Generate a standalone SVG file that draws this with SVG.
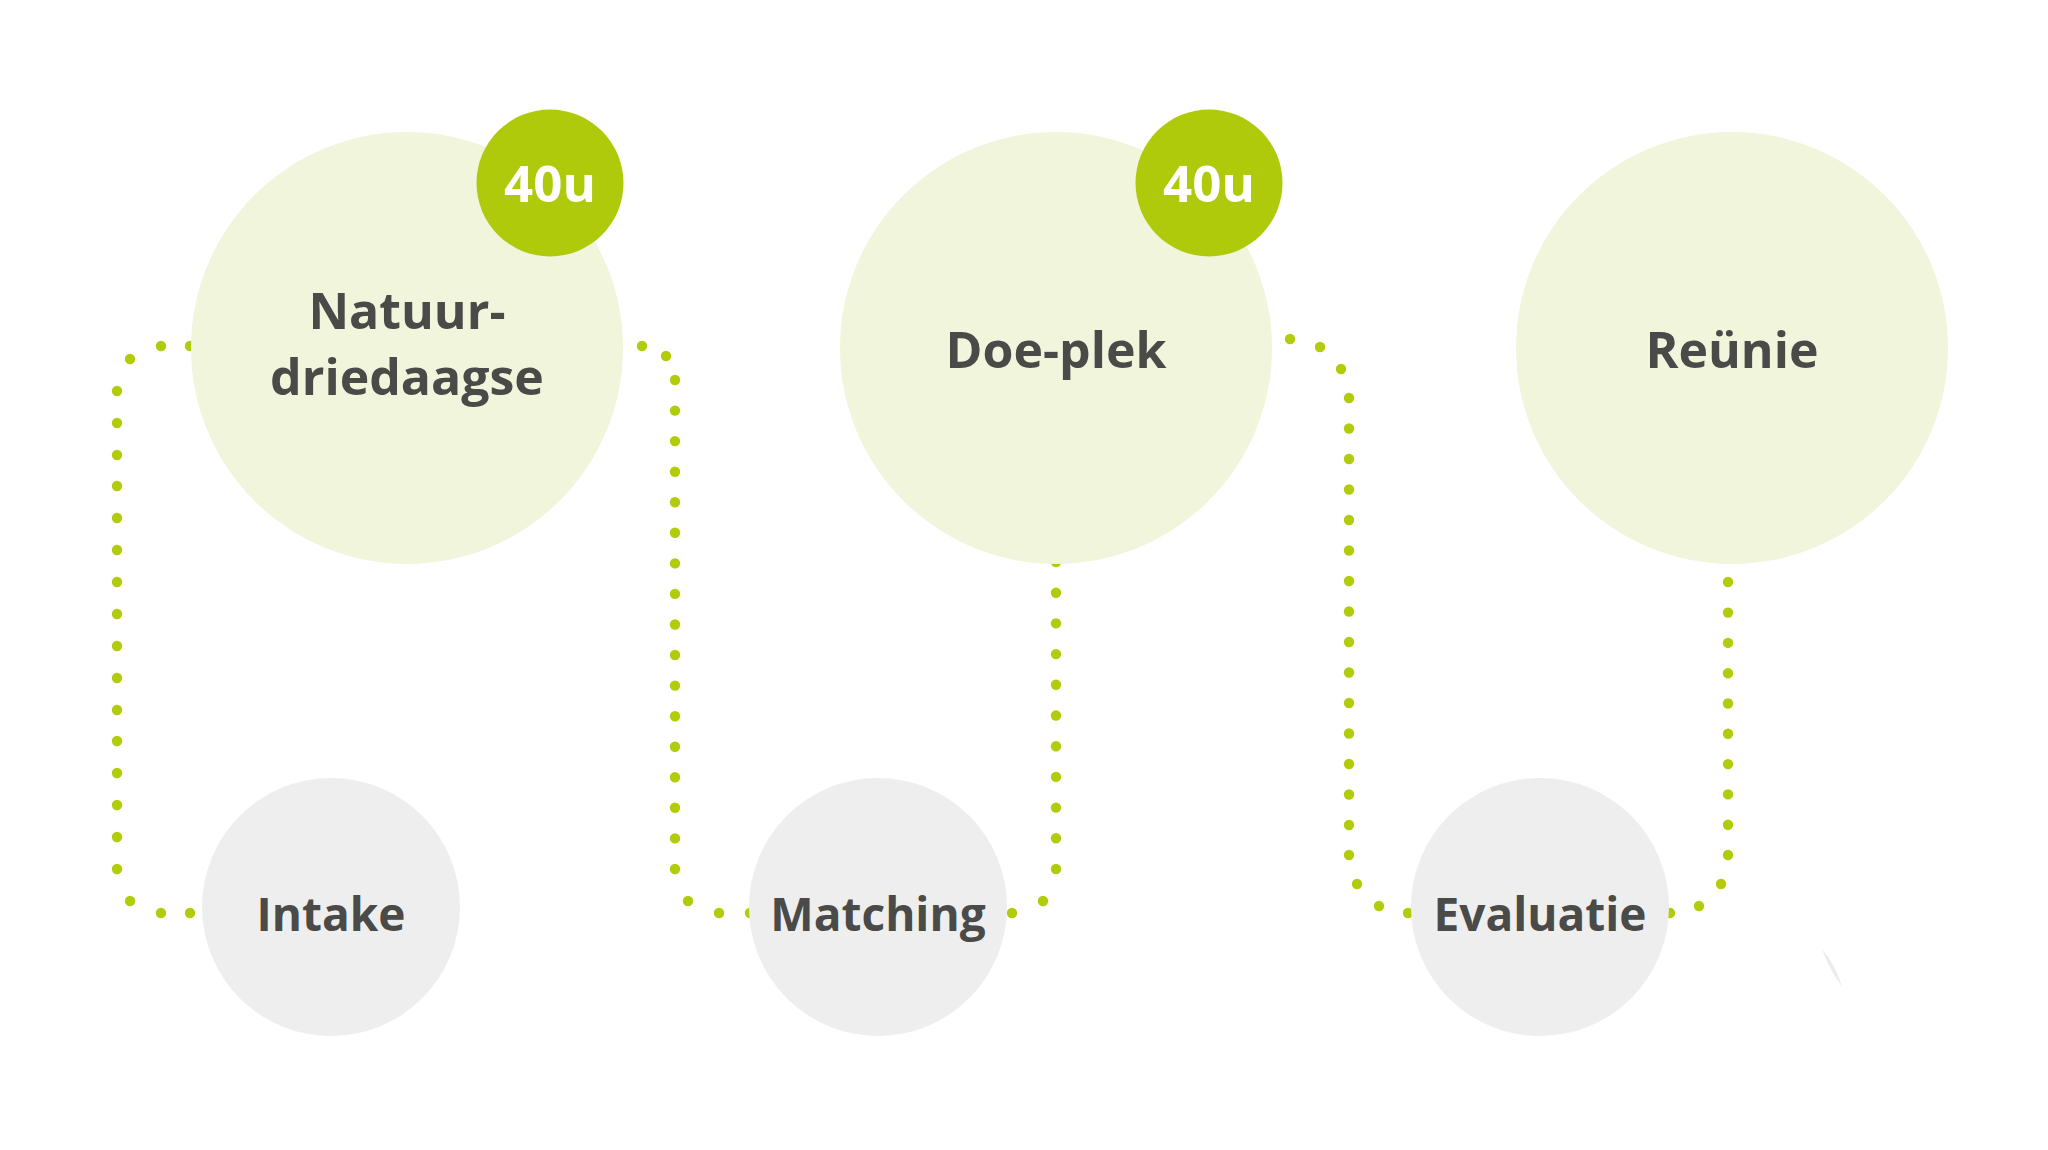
<svg xmlns="http://www.w3.org/2000/svg" width="2048" height="1150" viewBox="0 0 2048 1150">
  <style>
    .big { fill: #f0f5dc; }
    .small { fill: #eeeeee; }
    .badge { fill: #afca0b; }
    .label { font-family: "Open Sans", "Liberation Sans", sans-serif; font-weight: 700; font-size: 50px; fill: #4a4a48; text-anchor: middle; }
    .slabel { font-family: "Open Sans", "Liberation Sans", sans-serif; font-weight: 700; font-size: 46px; fill: #4a4a48; text-anchor: middle; }
    .badgetext { font-family: "Open Sans", "Liberation Sans", sans-serif; font-weight: 700; font-size: 51px; fill: #ffffff; text-anchor: middle; }
    .conn { fill: none; stroke: none; marker-start: url(#dot); marker-mid: url(#dot); marker-end: url(#dot); }
  </style>
  <defs>
    <marker id="dot" markerUnits="userSpaceOnUse" markerWidth="12" markerHeight="12" refX="6" refY="6" viewBox="0 0 12 12" overflow="visible">
      <circle cx="6" cy="6" r="5.2" fill="#b2cb0b"/>
    </marker>
  </defs>
  <rect width="2048" height="1150" fill="#ffffff"/>

  <g id="connectors">
    <path id="c-intake-natuur" class="conn" d="M 190 346 L 161 346 L 130 359 L 117 391 L 117 423 L 117 455 L 117 486 L 117 518 L 117 550 L 117 582 L 117 614 L 117 646 L 117 678 L 117 710 L 117 741 L 117 773 L 117 805 L 117 837 L 117 869 L 130 901 L 161 913 L 190 913"/>
    <path id="c-natuur-matching" class="conn" d="M 642 346 L 666 356 L 675 380 L 675 410.6 L 675 441.1 L 675 471.7 L 675 502.2 L 675 532.8 L 675 563.4 L 675 593.9 L 675 624.5 L 675 655 L 675 685.6 L 675 716.2 L 675 746.7 L 675 777.3 L 675 807.8 L 675 838.4 L 675 869 L 688 901 L 719 913 L 750 913"/>
    <path id="c-matching-doeplek" class="conn" d="M 1012 913 L 1043 901 L 1056 869 L 1056 838.3 L 1056 807.6 L 1056 776.9 L 1056 746.2 L 1056 715.5 L 1056 684.8 L 1056 654.1 L 1056 623.4 L 1056 592.7 L 1056 562"/>
    <path id="c-doeplek-evaluatie" class="conn" d="M 1290 339 L 1320 347 L 1341 369 L 1349 398 L 1349 428.5 L 1349 459 L 1349 489.5 L 1349 520 L 1349 550.5 L 1349 581 L 1349 611.5 L 1349 642 L 1349 672.5 L 1349 703 L 1349 733.5 L 1349 764 L 1349 794.5 L 1349 825 L 1349 855 L 1357 884 L 1379 906 L 1408 913"/>
    <path id="c-evaluatie-reunie" class="conn" d="M 1670 913 L 1699 906 L 1721 884 L 1728 855 L 1728 824.7 L 1728 794.4 L 1728 764.1 L 1728 733.8 L 1728 703.5 L 1728 673.2 L 1728 642.9 L 1728 612.6 L 1728 582"/>
  </g>

  <g id="node-natuur">
    <circle class="big" cx="407" cy="348" r="216"/>
    <text class="label" x="407" y="329">Natuur-</text>
    <text class="label" x="407" y="395">driedaagse</text>
  </g>
  <g id="badge-natuur">
    <circle class="badge" cx="550" cy="183" r="73.5"/>
    <text class="badgetext" x="550" y="202">40u</text>
  </g>

  <g id="node-doeplek">
    <circle class="big" cx="1056" cy="348" r="216"/>
    <text class="label" x="1056" y="368">Doe-plek</text>
  </g>
  <g id="badge-doeplek">
    <circle class="badge" cx="1209" cy="183" r="73.5"/>
    <text class="badgetext" x="1209" y="202">40u</text>
  </g>

  <g id="node-reunie">
    <circle class="big" cx="1732" cy="348" r="216"/>
    <text class="label" x="1732" y="368">Reünie</text>
  </g>

  <g id="node-intake">
    <circle class="small" cx="331" cy="907" r="129"/>
    <text class="slabel" x="331" y="931">Intake</text>
  </g>

  <g id="node-matching">
    <circle class="small" cx="878" cy="907" r="129"/>
    <text class="slabel" x="878" y="931">Matching</text>
  </g>

  <g id="node-evaluatie">
    <circle class="small" cx="1540" cy="907" r="129"/>
    <text class="slabel" x="1540" y="931">Evaluatie</text>
  </g>

  <path id="sliver" d="M 1822 949 Q 1836 965 1842 987 Q 1829 969 1822 949 Z" fill="#ececec"/>
</svg>
